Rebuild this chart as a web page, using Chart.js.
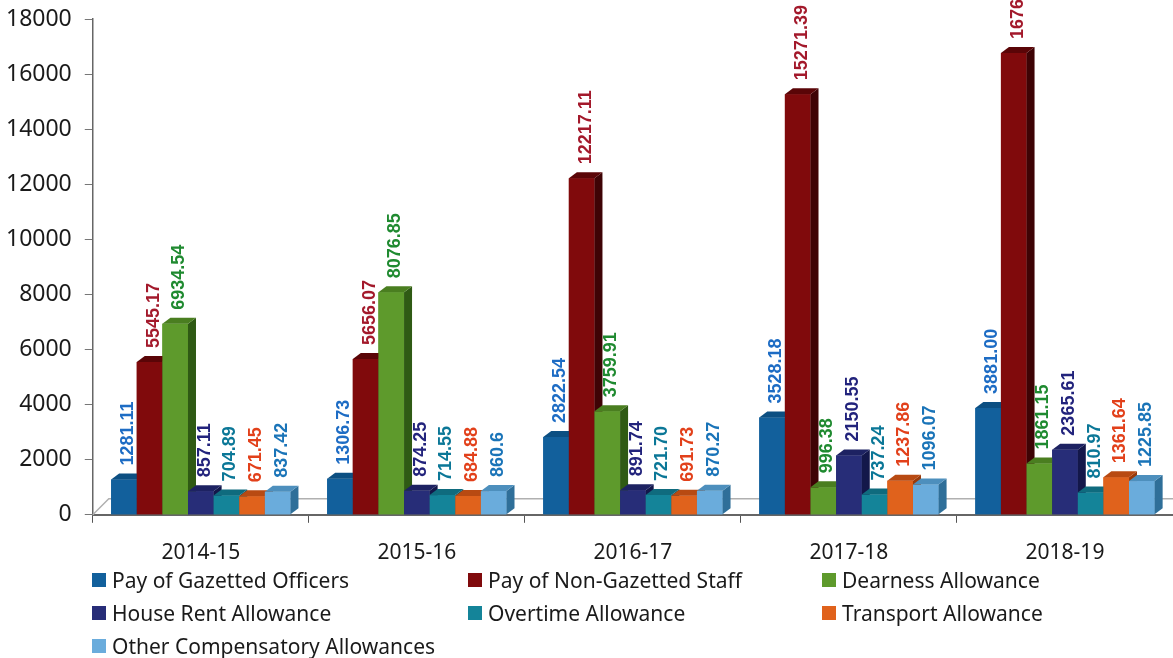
<!DOCTYPE html>
<html>
<head>
<meta charset="utf-8">
<script src="https://cdn.jsdelivr.net/npm/chart.js@4.4.1/dist/chart.umd.min.js"></script>
<style>
    body { margin: 0; background: #fff; }
    #wrap { position: relative; width: 1173px; height: 658px; }
    #legend {
        position: absolute; left: 92px; top: 566px;
        display: grid; grid-template-columns: 376px 354px 340px;
        row-gap: 6px;
        font-family: "Noto Sans", sans-serif; font-size: 21px; color: #1a1a1a;
    }
    .item { display: flex; align-items: center; height: 27px; white-space: nowrap; }
    .box { width: 14px; height: 14px; margin-right: 6px; }
</style>
</head>
<body>
<div id="wrap">
    <canvas id="chart" width="1173" height="658"></canvas>
    <div id="legend"></div>
</div>
<script>
const categories = ['2014-15', '2015-16', '2016-17', '2017-18', '2018-19'];
const seriesNames = [
    'Pay of Gazetted Officers', 'Pay of Non-Gazetted Staff', 'Dearness Allowance',
    'House Rent Allowance', 'Overtime Allowance', 'Transport Allowance',
    'Other Compensatory Allowances'
];
const gazetted = [1281.11, 1306.73, 2822.54, 3528.18, 3881.00];
const nonGazetted = [5545.17, 5656.07, 12217.11, 15271.39, 16762.00];
const dearness = [6934.54, 8076.85, 3759.91, 996.38, 1861.15];
const houseRent = [857.11, 874.25, 891.74, 2150.55, 2365.61];
const overtime = [704.89, 714.55, 721.70, 737.24, 810.97];
const transport = [671.45, 684.88, 691.73, 1237.86, 1361.64];
const otherComp = [837.42, 860.6, 870.27, 1096.07, 1225.85];
const yTicks = [0, 2000, 4000, 6000, 8000, 10000, 12000, 14000, 16000, 18000];

const barColors = ['#12609c', '#800a0c', '#5e9a2c', '#272d78', '#148499', '#e0621c', '#6aacdc'];
const sideColors = ['#0a3d66', '#3e0305', '#2f5a14', '#13174a', '#0a5262', '#9a3a0a', '#2f6f99'];
const topColors = ['#0c4f82', '#5a0507', '#4a7e20', '#1d2262', '#0f6b7e', '#b84a12', '#4d8fbd'];
const textColors = ['#1d6cc4', '#a3192b', '#1f8a30', '#22237c', '#0b7797', '#e2401a', '#1a74b8'];

const allSeries = [gazetted, nonGazetted, dearness, houseRent, overtime, transport, otherComp];
const DX = 8, DY = 6;

const fmt = (v) => v === 860.6 ? '860.6' : v.toFixed(2);

// floor line behind the bars
const floorPlugin = {
    id: 'floor',
    beforeDatasetsDraw(chart) {
        const {ctx, chartArea} = chart;
        ctx.save();
        ctx.strokeStyle = '#b0b0b0';
        ctx.lineWidth = 1.5;
        ctx.beginPath();
        ctx.moveTo(chartArea.left, chartArea.bottom);
        ctx.lineTo(chartArea.left + 16, chartArea.bottom - 16);
        ctx.lineTo(chartArea.right, chartArea.bottom - 16);
        ctx.stroke();
        ctx.restore();
    }
};

// side and top faces, then value labels
const bar3d = {
    id: 'bar3d',
    afterDatasetsDraw(chart) {
        const ctx = chart.ctx;
        ctx.save();
        chart.data.datasets.forEach((ds, i) => {
            const meta = chart.getDatasetMeta(i);
            meta.data.forEach((el) => {
                el.draw(ctx);
                const l = el.x - el.width / 2, r = el.x + el.width / 2;
                ctx.fillStyle = sideColors[i];
                ctx.beginPath();
                ctx.moveTo(r, el.y);
                ctx.lineTo(r + DX, el.y - DY);
                ctx.lineTo(r + DX, el.base - DY);
                ctx.lineTo(r, el.base);
                ctx.closePath();
                ctx.fill();
                ctx.fillStyle = topColors[i];
                ctx.beginPath();
                ctx.moveTo(l, el.y);
                ctx.lineTo(l + DX, el.y - DY);
                ctx.lineTo(r + DX, el.y - DY);
                ctx.lineTo(r, el.y);
                ctx.closePath();
                ctx.fill();
            });
        });
        ctx.font = 'bold 18px "Liberation Sans", Arial, sans-serif';
        ctx.textBaseline = 'middle';
        ctx.textAlign = 'left';
        chart.data.datasets.forEach((ds, i) => {
            const meta = chart.getDatasetMeta(i);
            meta.data.forEach((el, j) => {
                ctx.save();
                ctx.translate(el.x + DX / 2, el.y - DY - 8);
                ctx.rotate(-Math.PI / 2);
                ctx.fillStyle = textColors[i];
                ctx.fillText(fmt(ds.data[j]), 0, 0);
                ctx.restore();
            });
        });
        ctx.restore();
    }
};

new Chart(document.getElementById('chart'), {
    type: 'bar',
    data: {
        labels: categories,
        datasets: allSeries.map((s, i) => ({
            label: seriesNames[i],
            data: s,
            backgroundColor: barColors[i],
            borderWidth: 0,
            categoryPercentage: 0.83,
            barPercentage: 1
        }))
    },
    options: {
        responsive: false,
        animation: false,
        layout: { padding: { left: -7, top: 0, right: 0, bottom: 74 } },
        plugins: { legend: { display: false }, tooltip: { enabled: false } },
        scales: {
            x: {
                grid: { drawOnChartArea: false, tickLength: 8, color: '#555' },
                border: { color: '#666', width: 2 },
                ticks: {
                    color: '#1a1a1a', padding: 18,
                    font: { family: 'Noto Sans', size: 21 }
                }
            },
            y: {
                min: 0, max: 18000,
                afterBuildTicks: (axis) => { axis.ticks = yTicks.map(v => ({value: v})); },
                afterFit: (axis) => { axis.paddingTop = 19; },
                grid: { drawOnChartArea: false, tickLength: 8, color: '#777' },
                border: { color: '#666', width: 1.5 },
                ticks: {
                    color: '#1a1a1a', padding: 13,
                    font: { family: 'Noto Sans', size: 23 },
                    callback: (v) => String(v)
                }
            }
        }
    },
    plugins: [floorPlugin, bar3d]
});

const legend = document.getElementById('legend');
seriesNames.forEach((name, i) => {
    const item = document.createElement('div');
    item.className = 'item';
    item.innerHTML = '<span class="box" style="background:' + barColors[i] + '"></span>' + name;
    legend.appendChild(item);
});
</script>
</body>
</html>
